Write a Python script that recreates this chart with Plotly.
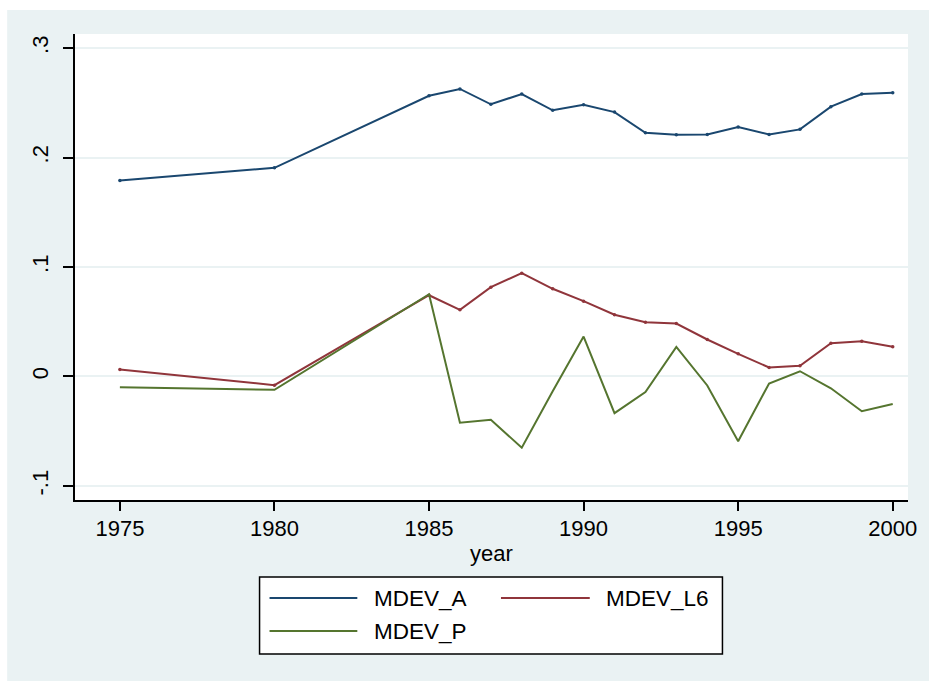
import plotly.graph_objects as go

years = [1975, 1980, 1985, 1986, 1987, 1988, 1989, 1990, 1991, 1992, 1993,
         1994, 1995, 1996, 1997, 1998, 1999, 2000]
mdev_a = [0.179, 0.1906, 0.2564, 0.2626, 0.2486, 0.258, 0.2431, 0.2482, 0.2415,
          0.2226, 0.2208, 0.2211, 0.2278, 0.2211, 0.2257, 0.2464, 0.258, 0.2592]
mdev_l6 = [0.0064, -0.0079, 0.0742, 0.0609, 0.0816, 0.0944, 0.0801, 0.0688, 0.0564,
           0.0496, 0.0484, 0.0338, 0.0207, 0.0082, 0.0098, 0.0304, 0.0322, 0.0271]
mdev_p = [-0.0098, -0.0121, 0.0751, -0.0422, -0.0395, -0.065, -0.0134, 0.0365, -0.0335,
          -0.0142, 0.0271, -0.0082, -0.0591, -0.0064, 0.0048, -0.0108, -0.0317, -0.0251]

x_ticks = [1975, 1980, 1985, 1990, 1995, 2000]
y_ticks = [-0.1, 0, 0.1, 0.2, 0.3]
y_tick_labels = ["-.1", "0", ".1", ".2", ".3"]

series_names = ["MDEV_A", "MDEV_L6", "MDEV_P"]
colors = ["#1A476F", "#90353B", "#55752F"]

BG = "#EAF2F3"
FONT = "Liberation Sans, Arial, Helvetica, sans-serif"

fig = go.Figure()
for name, vals, col, mk in zip(series_names, [mdev_a, mdev_l6, mdev_p], colors,
                               [True, True, False]):
    fig.add_trace(go.Scatter(
        x=years, y=vals, name=name,
        mode="lines+markers" if mk else "lines",
        line=dict(color=col, width=2),
        marker=dict(color=col, size=3.5),
        showlegend=False,
    ))

# figure placed at the page origin (body margin removed below)
W, H = 929, 681
L, R, T, B = 75, 910, 34, 500
pw, ph = R - L, B - T

def px(xpage):
    return (xpage - L) / pw

def py(ypage):
    return (B - ypage) / ph

shapes = [
    # white strips at top and left of the picture
    dict(type="rect", xref="paper", yref="paper", x0=px(-5), x1=px(940), y0=py(10), y1=py(-5),
         fillcolor="white", line=dict(width=0), layer="above"),
    dict(type="rect", xref="paper", yref="paper", x0=px(-5), x1=px(7), y0=py(690), y1=py(-5),
         fillcolor="white", line=dict(width=0), layer="above"),
    # legend box
    dict(type="rect", xref="paper", yref="paper", x0=px(260), x1=px(724), y0=py(654), y1=py(577),
         fillcolor="white", line=dict(color="black", width=1.5), layer="above"),
]
annotations = []
legend_items = [
    (series_names[0], colors[0], 270, 358, 373, 598),
    (series_names[1], colors[1], 502, 591, 605, 598),
    (series_names[2], colors[2], 270, 358, 373, 631),
]
for name, col, lx0, lx1, tx, ly in legend_items:
    shapes.append(dict(type="line", xref="paper", yref="paper", x0=px(lx0), x1=px(lx1),
                       y0=py(ly), y1=py(ly), line=dict(color=col, width=2), layer="above"))
    annotations.append(dict(xref="paper", yref="paper", x=px(tx), y=py(ly), text=name,
                            showarrow=False, xanchor="left", yanchor="middle",
                            font=dict(size=22.5, color="black", family=FONT)))

fig.update_layout(
    width=W, height=H,
    margin=dict(l=L, r=W - R, t=T, b=H - B),
    paper_bgcolor=BG, plot_bgcolor="white",
    font=dict(family=FONT, size=22, color="black"),
    shapes=shapes, annotations=annotations,
    showlegend=False,
)
fig.update_xaxes(
    range=[1973.548, 2000.494], tickvals=x_ticks, ticktext=[str(v) for v in x_ticks],
    showgrid=False, zeroline=False,
    showline=True, linecolor="black", linewidth=1.5,
    ticks="outside", ticklen=9, tickwidth=1.5, tickcolor="black",
    tickfont=dict(size=22), ticklabelstandoff=-1,
    title=dict(text="year", font=dict(size=22), standoff=5),
)
fig.update_yaxes(
    range=[-0.1128, 0.3128], tickvals=y_ticks, ticktext=y_tick_labels,
    showgrid=True, gridcolor=BG, gridwidth=1.5, zeroline=False,
    showline=True, linecolor="black", linewidth=1.5,
    ticks="outside", ticklen=10, tickwidth=1.5, tickcolor="black",
    tickangle=-90, tickfont=dict(size=22), ticklabelstandoff=6,
)

fig.write_html("out.html",
               config={"displayModeBar": False},
               post_script="document.body.style.margin='0px';document.body.style.overflow='hidden';")
